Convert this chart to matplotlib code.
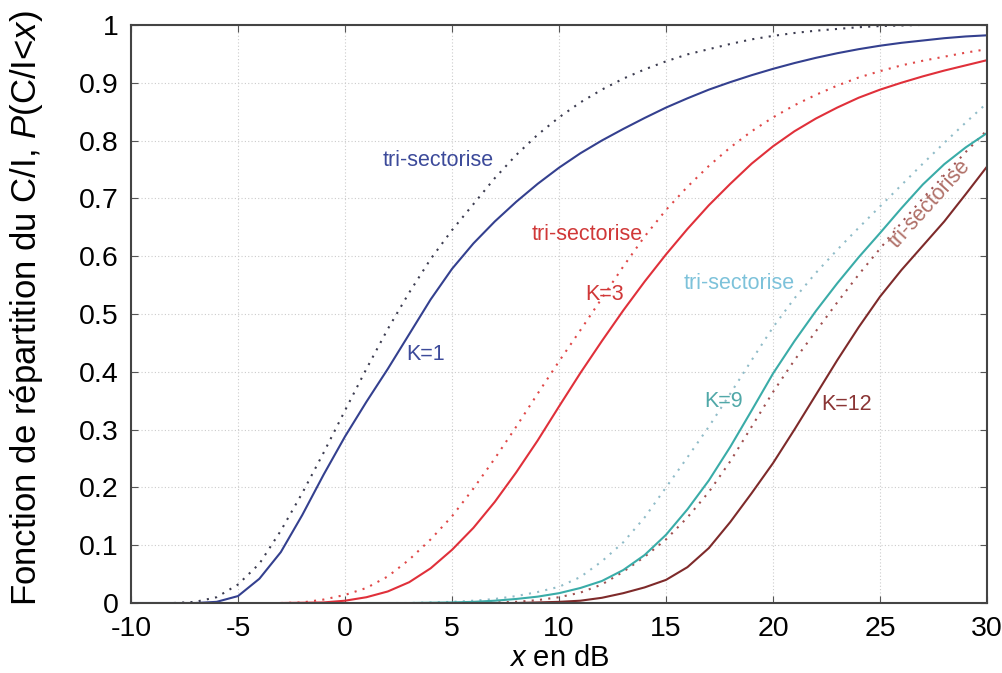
import numpy as np
import matplotlib.pyplot as plt

plt.rcParams['font.family'] = ['Liberation Sans', 'DejaVu Sans']
plt.rcParams['axes.unicode_minus'] = False
plt.rcParams['mathtext.fontset'] = 'custom'
plt.rcParams['mathtext.rm'] = 'Liberation Sans'
plt.rcParams['mathtext.it'] = 'Liberation Sans:italic'

nan = np.nan
x_db = list(range(-10, 31))

# K=1
k1 = [0, 0, 0, 0, 0.002, 0.012, 0.042, 0.088, 0.152, 0.222, 0.288, 0.348, 0.405, 0.465,
      0.525, 0.578, 0.622, 0.66, 0.694, 0.725, 0.753, 0.778, 0.8, 0.82, 0.839, 0.857, 0.873,
      0.888, 0.901, 0.913, 0.924, 0.934, 0.943, 0.951, 0.958, 0.964, 0.969, 0.973, 0.977,
      0.98, 0.982]
k1_tri = [nan, nan, 0, 0.002, 0.01, 0.032, 0.068, 0.125, 0.19, 0.26, 0.333, 0.405, 0.474,
          0.537, 0.595, 0.645, 0.69, 0.735, 0.775, 0.81, 0.84, 0.866, 0.888, 0.907, 0.923,
          0.937, 0.949, 0.958, 0.967, 0.975, 0.981, 0.986, 0.99, 0.993, 0.996, 0.998,
          0.999, 1.0, 1.0, 1.0, 1.0]
# K=3
k3 = [nan] * 7 + [0, 0.0005, 0.001, 0.004, 0.01, 0.02, 0.036, 0.06, 0.092, 0.13, 0.175,
                  0.226, 0.281, 0.34, 0.398, 0.453, 0.506, 0.556, 0.603, 0.647, 0.688, 0.725,
                  0.76, 0.79, 0.816, 0.838, 0.857, 0.874, 0.888, 0.9, 0.911, 0.921,
                  0.93, 0.939]
k3_tri = [nan] * 7 + [0, 0.001, 0.006, 0.014, 0.026, 0.046, 0.075, 0.11, 0.15, 0.198, 0.25,
                      0.305, 0.362, 0.418, 0.472, 0.527, 0.582, 0.634, 0.68, 0.72, 0.756,
                      0.788, 0.816, 0.84, 0.861, 0.879, 0.895, 0.909, 0.92, 0.93, 0.938,
                      0.945, 0.952, 0.958]
# K=9
k9 = [nan] * 11 + [0, 0, 0, 0.0005, 0.001, 0.002, 0.004, 0.007, 0.011, 0.017, 0.026,
                   0.038, 0.057, 0.083, 0.118, 0.162, 0.212, 0.27, 0.333, 0.397, 0.453,
                   0.505, 0.553, 0.598, 0.64, 0.683, 0.724, 0.759, 0.788, 0.813]
k9_tri = [nan] * 12 + [0, 0, 0.001, 0.002, 0.004, 0.007, 0.012, 0.019, 0.028, 0.045,
                       0.072, 0.105, 0.148, 0.2, 0.252, 0.305, 0.362, 0.42, 0.477, 0.527,
                       0.571, 0.611, 0.649, 0.686, 0.723, 0.76, 0.796, 0.831, 0.865]
# K=12
k12 = [nan] * 16 + [0, 0, 0, 0.001, 0.002, 0.004, 0.009, 0.017, 0.027, 0.04, 0.062, 0.095,
                    0.14, 0.19, 0.242, 0.3, 0.36, 0.42, 0.477, 0.53, 0.576, 0.618, 0.66,
                    0.707, 0.755]
k12_tri = [nan] * 16 + [0, 0.001, 0.002, 0.005, 0.01, 0.018, 0.032, 0.054, 0.08, 0.11,
                        0.148, 0.192, 0.245, 0.305, 0.365, 0.42, 0.47, 0.52, 0.568, 0.613,
                        0.658, 0.7, 0.74, 0.78, 0.818]

fig = plt.figure(figsize=(10.03, 6.73), dpi=100)
ax = fig.add_axes([0.1306, 0.104, 0.8535, 0.859])

dot = (0, (1, 3))
ax.plot(x_db, k1_tri, color='#3c3c50', lw=1.5, ls=dot)
ax.plot(x_db, k3_tri, color='#e04848', lw=1.5, ls=dot)
ax.plot(x_db, k9_tri, color='#90bcc8', lw=1.5, ls=dot)
ax.plot(x_db, k12_tri, color='#a05050', lw=1.5, ls=dot)
ax.plot(x_db, k1, color='#34408f', lw=1.5)
ax.plot(x_db, k3, color='#e0303a', lw=1.5)
ax.plot(x_db, k9, color='#3aaca8', lw=1.5)
ax.plot(x_db, k12, color='#7e2a2a', lw=1.5)

lab = dict(fontsize=15.5, ha='center', va='center')
ax.text(4.35, 0.766, 'tri-sectorise', color='#3c4a9a', **lab)
ax.text(3.75, 0.43, 'K=1', color='#3c4a9a', **lab)
ax.text(11.3, 0.637, 'tri-sectorise', color='#d03838', **lab)
ax.text(12.15, 0.533, 'K=3', color='#d03838', **lab)
ax.text(18.4, 0.553, 'tri-sectorise', color='#7dc2da', **lab)
ax.text(17.7, 0.348, 'K=9', color='#50a8a8', **lab)
ax.text(23.45, 0.344, 'K=12', color='#8a3535', **lab)
ax.text(27.3, 0.69, 'tri-sectorise', color='#b07068', rotation=48, **lab)

ax.set_xlim(-10, 30)
ax.set_ylim(0, 1)
ax.set_xticks(range(-10, 31, 5))
ax.set_yticks(np.arange(0, 1.01, 0.1))
ax.set_yticklabels(['0', '0.1', '0.2', '0.3', '0.4', '0.5', '0.6', '0.7', '0.8', '0.9', '1'])
ax.tick_params(direction='in', labelsize=20.5, length=5, color='#555555',
               top=True, right=True, pad=9)
ax.grid(True, color='#cccccc', ls=(0, (1, 2)), lw=0.8)
for s in ax.spines.values():
    s.set_color('#444444')
    s.set_linewidth(1.5)

ax.set_xlabel('$x$ en dB', fontsize=21, labelpad=2)
ax.set_ylabel('Fonction de répartition du C/I, $P$(C/I<$x$)', fontsize=25)
ax.yaxis.set_label_coords(-0.10, 0.51)

fig.savefig('out.png', dpi=100)
